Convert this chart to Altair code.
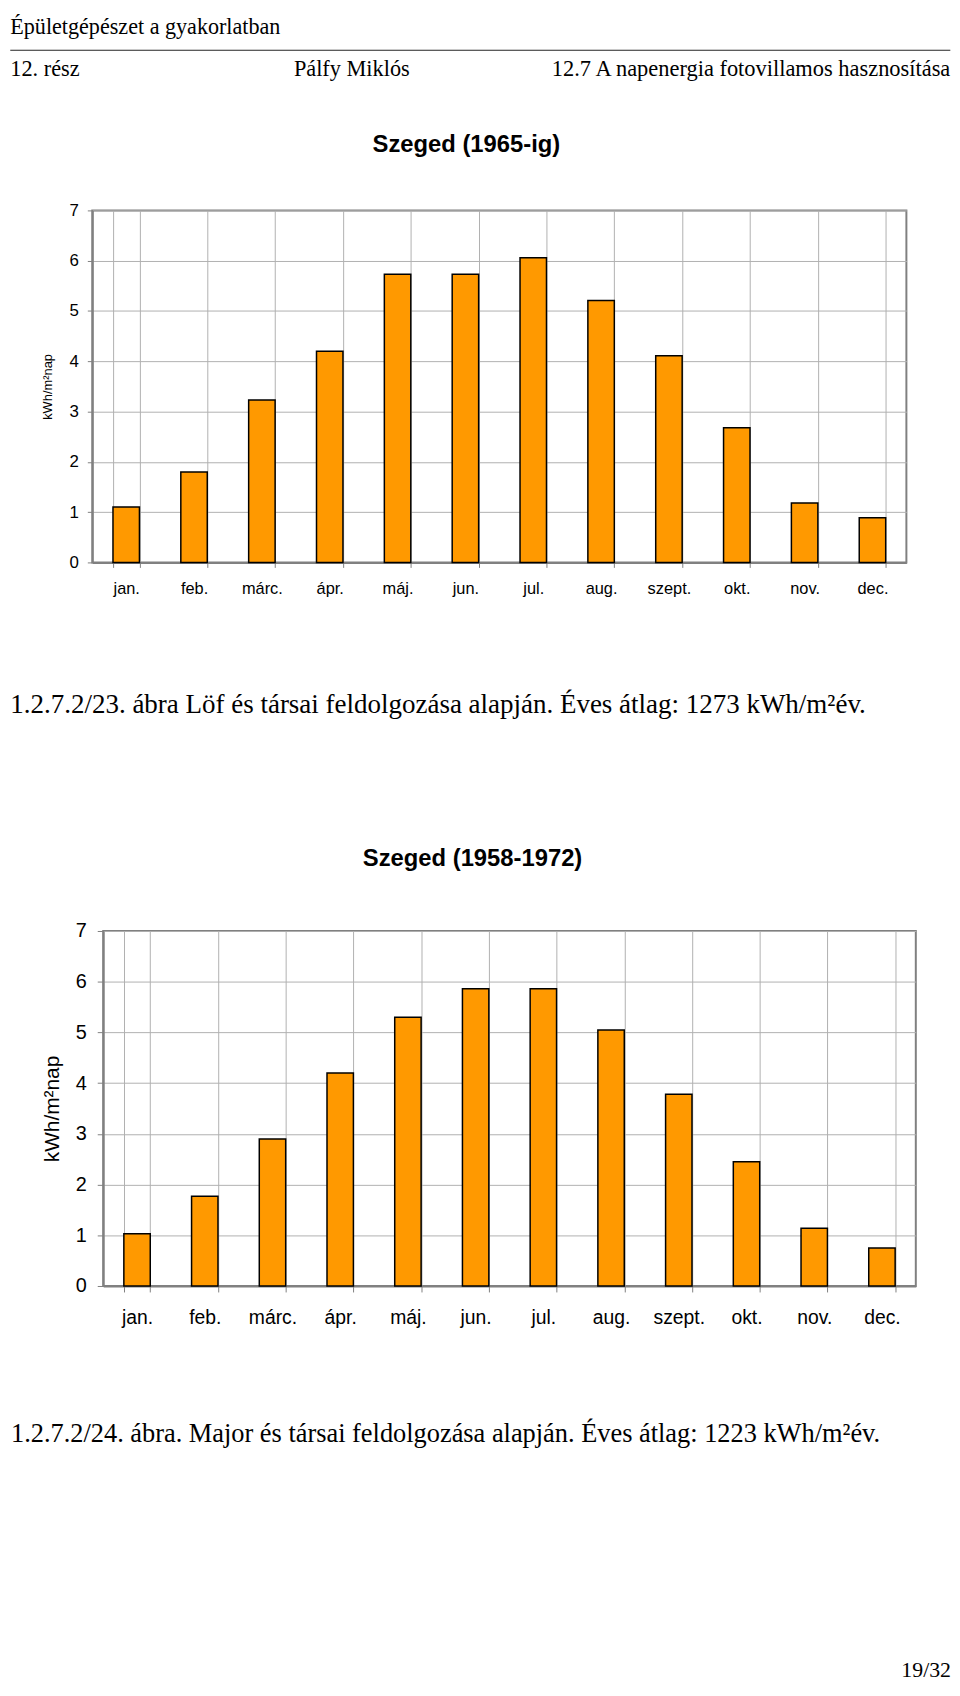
import altair as alt
import pandas as pd

# ---------------- data ----------------
months = ["jan.", "feb.", "márc.", "ápr.", "máj.", "jun.", "jul.", "aug.", "szept.", "okt.", "nov.", "dec."]
values_1965 = [1.1, 1.8, 3.23, 4.2, 5.73, 5.73, 6.06, 5.21, 4.11, 2.68, 1.18, 0.89]
values_1958_1972 = [1.03, 1.77, 2.9, 4.2, 5.3, 5.86, 5.86, 5.05, 3.78, 2.45, 1.14, 0.75]
y_ticks = [0, 1, 2, 3, 4, 5, 6, 7]

header_title = "Épületgépészet a gyakorlatban"
header_left = "12. rész"
header_mid = "Pálfy Miklós"
header_right = "12.7 A napenergia fotovillamos hasznosítása"
title_1 = "Szeged (1965-ig)"
title_2 = "Szeged (1958-1972)"
caption_1 = "1.2.7.2/23. ábra Löf és társai feldolgozása alapján. Éves átlag: 1273 kWh/m²év."
caption_2 = "1.2.7.2/24. ábra. Major és társai feldolgozása alapján. Éves átlag: 1223 kWh/m²év."
page_no = "19/32"
y_title = "kWh/m²nap"

SANS = "Liberation Sans, Arial, sans-serif"
SERIF = "Liberation Serif, Times New Roman, serif"
ORANGE = "#FF9900"
AXIS_GRAY = "#808080"
GRID_GRAY = "#b0b0b0"

one = pd.DataFrame({"k": [0]})


def text_layer(txt, x, y, size, font, align="left", weight="normal"):
    return alt.Chart(one).mark_text(
        text=txt, align=align, baseline="alphabetic", font=font,
        fontSize=size, fontWeight=weight, color="black"
    ).encode(x=alt.value(x), y=alt.value(y))


def hline(x1, x2, y, color):
    return alt.Chart(one).mark_rule(color=color, strokeWidth=1).encode(
        x=alt.value(x1), x2=alt.value(x2), y=alt.value(y)
    )


def bar_chart(values, label_size, label_pad_x, y_label_size, y_label_pad, tick, title_size, title_pad):
    df = pd.DataFrame({"month": months, "value": values})
    return alt.Chart(df).mark_bar(color=ORANGE, stroke="black", strokeWidth=1.5).encode(
        x=alt.X(
            "month:N", sort=months,
            scale=alt.Scale(paddingInner=0.61, paddingOuter=0.305),
            axis=alt.Axis(
                title=None, labelAngle=0, labelFont=SANS, labelFontSize=label_size,
                labelColor="black", labelPadding=label_pad_x, tickBand="extent",
                tickSize=tick, tickColor=AXIS_GRAY, tickWidth=1,
                domainColor=AXIS_GRAY, domainWidth=2,
                grid=True, gridColor=GRID_GRAY, gridWidth=1,
            ),
        ),
        y=alt.Y(
            "value:Q",
            scale=alt.Scale(domain=[0, 7], nice=False),
            axis=alt.Axis(
                values=y_ticks, format="d", title=y_title, titleFont=SANS,
                titleFontSize=title_size, titleFontWeight="normal", titleColor="black",
                titlePadding=title_pad, labelFont=SANS, labelFontSize=y_label_size,
                labelColor="black", labelPadding=y_label_pad, tickSize=tick,
                tickColor=AXIS_GRAY, tickWidth=1, domainColor=AXIS_GRAY, domainWidth=2,
                grid=True, gridColor=GRID_GRAY, gridWidth=1,
            ),
        ),
    )


# ---------------- chart 1 (origin = plot top-left, page 90.7, 204) ----------------
bars1 = bar_chart(values_1965, 16.5, 13, 17, 9, 5, 13, 15)
chart1 = alt.layer(
    bars1,
    text_layer(header_title, -82.7, -178, 22.3, SERIF),
    hline(-82.7, 865.3, -161.5, "#222222"),
    text_layer(header_left, -82.7, -136, 22.5, SERIF),
    text_layer(header_mid, 203.3, -136, 22.5, SERIF),
    text_layer(header_right, 865.3, -136, 22.6, SERIF, align="right"),
    text_layer(title_1, 377.3, -59, 24, SANS, align="center", weight="bold"),
    text_layer(caption_1, -82.7, 506.7, 27.2, SERIF),
).properties(width=821, height=355)

# ---------------- chart 2 (origin = plot top-left, page 101, 930.7) ----------------
bars2 = bar_chart(values_1958_1972, 19.5, 17, 20, 11, 6, 21, 12.5)
chart2 = alt.layer(
    bars2,
    text_layer(title_2, 372.5, -65.7, 24, SANS, align="center", weight="bold"),
    text_layer(caption_2, -93, 515.3, 26.6, SERIF),
    text_layer(page_no, 855, 752.3, 22, SERIF, align="right"),
).properties(width=819.5, height=358)

spacer = alt.Chart(one).mark_point(opacity=0, size=1).encode(
    x=alt.value(0), y=alt.value(0)
).properties(width=10.3, height=10, view=alt.ViewBackground(strokeOpacity=0))

row2 = alt.hconcat(spacer, chart2, spacing=0, bounds="flush")

chart = alt.vconcat(chart1, row2, spacing=371.7, bounds="flush").properties(
    padding=0, background="white"
).configure_view(stroke=AXIS_GRAY, strokeWidth=2)

chart.save("out.html", embed_options={"renderer": "svg", "actions": False})
